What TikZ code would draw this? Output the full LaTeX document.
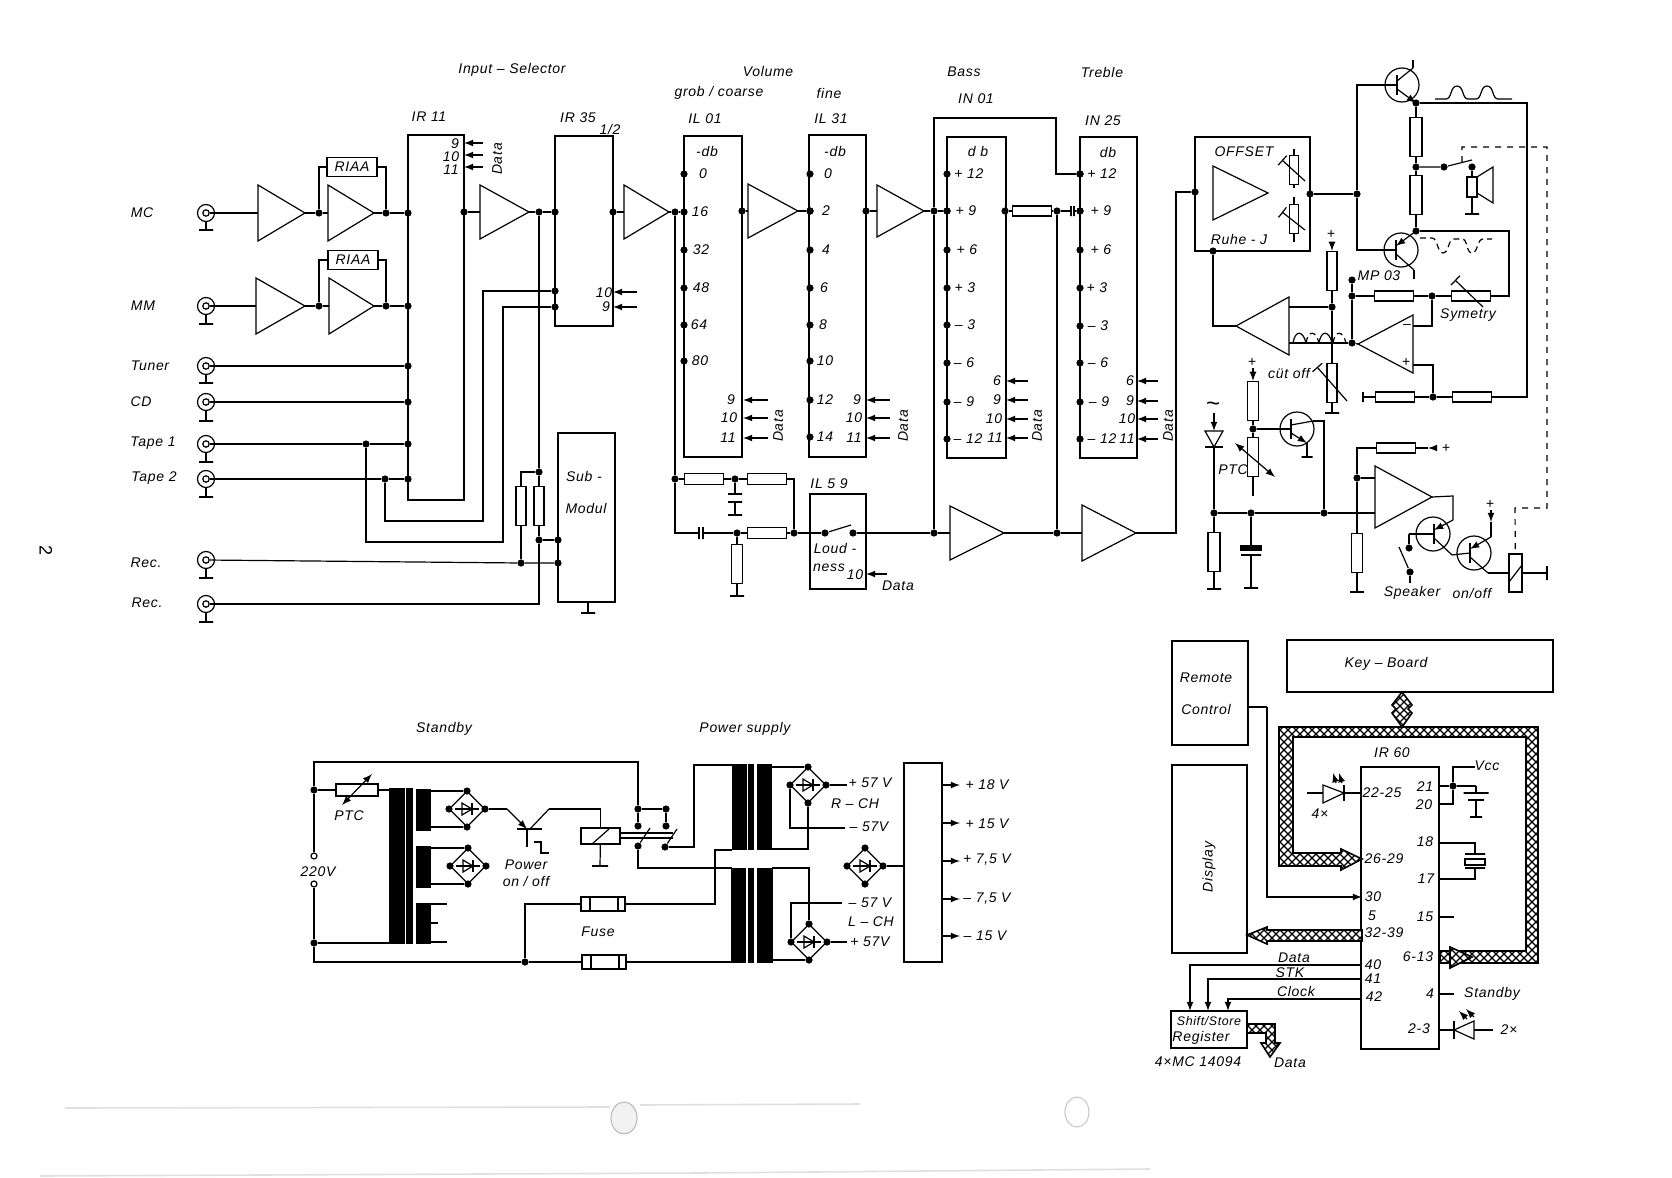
\documentclass[tikz,border=0pt]{standalone}
\usepackage{fontspec}
\setmainfont{Liberation Sans}[LetterSpace=5]
\usetikzlibrary{shapes.geometric,patterns}

\pgfdeclarepatternformonly{buscross}{\pgfqpoint{-1pt}{-1pt}}{\pgfqpoint{5pt}{5pt}}{\pgfqpoint{4pt}{4pt}}{
  \pgfsetlinewidth{.6pt}
  \pgfpathmoveto{\pgfqpoint{0pt}{0pt}}\pgfpathlineto{\pgfqpoint{4pt}{4pt}}
  \pgfpathmoveto{\pgfqpoint{0pt}{4pt}}\pgfpathlineto{\pgfqpoint{4pt}{0pt}}
  \pgfusepath{stroke}}

\tikzset{
  lbl/.style={inner sep=0pt,font=\fontsize{7}{8.4}\selectfont\itshape},
  lblr/.style={lbl,rotate=90},
  dot/.style={circle,fill=black,inner sep=0pt,minimum size=3.6pt},
  block/.style={draw,inner sep=0pt,outer sep=0pt},
  core/.style={block,fill=black},
  resh/.style={draw,fill=white,inner sep=0pt,minimum width=19.5pt,minimum height=5.5pt},
  resv/.style={draw,fill=white,inner sep=0pt,minimum width=5.5pt,minimum height=19.5pt},
  gndbar/.style={draw,fill=black,inner sep=0pt,minimum width=7pt,minimum height=0pt},
  vbar/.style={draw,fill=black,inner sep=0pt,minimum width=0pt,minimum height=6pt},
  jackring/.style={draw,circle,inner sep=0pt,minimum size=8.5pt},
  jackpin/.style={draw,circle,inner sep=0pt,minimum size=3.2pt},
  qring/.style={draw,circle,inner sep=0pt,minimum size=17pt},
  term/.style={draw,circle,fill=white,inner sep=0pt,minimum size=3pt},
  brbody/.style={draw,diamond,aspect=1,inner sep=0pt,minimum width=18pt,minimum height=18pt},
  busband/.style={draw,line width=.8pt,preaction={fill=white},pattern=buscross},
  smear/.style={draw=black!12,line width=.8pt}
}

\newcommand{\blk}[6][]{\node[block,minimum width={(#5-#3)*.5pt},minimum height={(#6-#4)*.5pt},#1] (#2) at ({(#3+#5)/2},{(#4+#6)/2}) {};}
\newcommand{\amp}[5]{\draw (#2,{#4-#5}) -- (#2,{#4+#5}) -- (#3,#4) -- cycle;
  \coordinate (#1-in) at (#2,#4); \coordinate (#1-out) at (#3,#4);}
\newcommand{\datain}[4]{\coordinate (#1-a) at (#2,#4); \coordinate (#1-b) at (#3,#4); \draw[-latex] (#1-a) -- (#1-b);}
\newcommand{\trim}[5]{\coordinate (#1-s) at (#2,#3); \coordinate (#1-e) at (#4,#5); \draw[-|] (#1-s) -- (#1-e);}
\newcommand{\twotip}[5]{\coordinate (#1-s) at (#2,#3); \coordinate (#1-e) at (#4,#5); \draw[latex-latex] (#1-s) -- (#1-e);}
\newcommand{\trans}[8]{\node[qring] (#1) at (#2,#3) {};
  \coordinate (#1-b) at (#4,#3); \coordinate (#1-bt) at (#4,{#3-10}); \coordinate (#1-bb) at (#4,{#3+10});
  \draw[line width=1pt] (#1-bt) -- (#1-bb);
  \coordinate (#1-u) at #5; \coordinate (#1-l) at #6;
  \coordinate (#1-us) at (#4,{#3-4}); \coordinate (#1-ls) at (#4,{#3+4});
  \draw[#7] (#1-us) -- (#1-u); \draw[#8] (#1-ls) -- (#1-l);}
\newcommand{\bridge}[3]{\node[brbody] (#1) at (#2,#3) {};
  \node[dot] (#1-t) at (#2,{#3-18}) {}; \node[dot] (#1-b) at (#2,{#3+18}) {};
  \node[dot] (#1-l) at ({#2-18},#3) {}; \node[dot] (#1-r) at ({#2+18},#3) {};
  \draw ({#2-12},#3) -- ({#2+12},#3);
  \draw ({#2-5},{#3-6}) -- ({#2-5},{#3+6}) -- ({#2+5},#3) -- cycle;
  \draw ({#2+5},{#3-6}) -- ({#2+5},{#3+6});}

\begin{document}
\begin{tikzpicture}[x=.5pt,y=-.5pt,line width=.6pt]
  \useasboundingbox (0,0) rectangle (1672,1178);

  \draw[smear] (65,1108) -- (610,1107);
  \draw[smear] (640,1105) -- (860,1104);
  \draw[smear] (40,1176) -- (700,1173) -- (1150,1169);
  \node[draw=black!25,fill=black!5,ellipse,inner sep=0pt,minimum width=13pt,minimum height=16pt] (holeA) at (624,1118) {};
  \node[draw=black!20,ellipse,inner sep=0pt,minimum width=12pt,minimum height=15pt] (holeB) at (1077,1112) {};

  \foreach \n/\x/\y/\g/\t/\lx/\ly in {mc/206/213/230/MC/142/213,mm/206/306/324/MM/143/306,tuner/206/366/383/Tuner/150/366,cd/206/402/421/CD/141/402,tapeA/206/444/462/Tape 1/153/443,tapeB/206/479/497/Tape 2/154/478,recA/206/560/578/Rec./146/563,recB/206/604/622/Rec./147/603}{
    \node[jackring] (\n) at (\x,\y) {};
    \node[jackpin] (\n-pin) at (\x,\y) {};
    \node[gndbar] (\n-g) at (\x,\g) {};
    \draw (\n) -- (\n-g);
    \node[lbl] (\n-t) at (\lx,\ly) {\t};
  }

  \amp{ampA}{258}{305}{213}{28}
  \amp{ampB}{328}{374}{213}{28}
  \amp{ampC}{256}{305}{306}{28}
  \amp{ampD}{329}{374}{306}{28}
  \amp{ampE}{480}{529}{212}{27}
  \amp{ampF}{624}{669}{212}{27}
  \amp{ampG}{748}{798}{211}{27}
  \amp{ampH}{877}{924}{211}{26}
  \amp{ampI}{950}{1004}{533}{27}
  \amp{ampJ}{1082}{1136}{533}{28}

  \blk{ir11}{408}{135}{464}{500}
  \blk{ir35}{555}{136}{613}{326}
  \blk{submod}{558}{433}{615}{602}
  \blk{il01}{684}{136}{742}{457}
  \blk{il31}{809}{135}{866}{457}
  \blk{il59}{810}{494}{866}{589}
  \blk{in01}{947}{137}{1006}{458}
  \blk{in25}{1080}{137}{1137}{458}
  \node[resh,minimum width=25pt,minimum height=9.5pt] (riaaA) at (352,167) {\fontsize{7}{8.4}\selectfont\itshape RIAA};
  \node[resh,minimum width=25pt,minimum height=9.5pt] (riaaB) at (353,260) {\fontsize{7}{8.4}\selectfont\itshape RIAA};

  \foreach \n/\x/\y in {fbA/319/213,fbB/386/213,fbC/319/306,fbD/386/306,irA/408/213,irB/408/306,irC/408/366,irD/408/402,irE/408/444,irF/408/479,irO/464/212,dSpl/539/212,ir35A/555/212,ir35B/555/291,ir35C/555/307,ir35O/613/212,dTA/366/444,dTB/385/479,dSplB/539/472,dRec/521/563,dSub/539/540,subA/558/540,subB/558/563,dLa/675/212,dLb/675/479,dLc/735/479,dLd/737/533,dLe/794/533,il01O/742/211,il31I/810/211,il31O/866/211,dBa/934/211,in01I/947/211,in01O/1005/211,dCp/1057/211,trI/1080/211,dBb/934/533,dTr/1057/533,swA/825/533,swB/853/533,trTop/1080/174,dOff/1195/192}{
    \node[dot] (\n) at (\x,\y) {};
  }

  \draw (mc-pin) -- (ampA-in);
  \draw (ampA-out) -- (fbA) -- (ampB-in);
  \draw (ampB-out) -- (fbB) -- (irA);
  \draw (fbA) |- (riaaA);
  \draw (riaaA) -| (fbB);
  \draw (mm-pin) -- (ampC-in);
  \draw (ampC-out) -- (fbC) -- (ampD-in);
  \draw (ampD-out) -- (fbD) -- (irB);
  \draw (fbC) |- (riaaB);
  \draw (riaaB) -| (fbD);
  \draw (tuner-pin) -- (irC);
  \draw (cd-pin) -- (irD);
  \draw (tapeA-pin) -- (dTA) -- (irE);
  \draw (tapeB-pin) -- (dTB) -- (irF);
  \draw (irO) -- (ampE-in);
  \draw (ampE-out) -- (dSpl) -- (ir35A);
  \draw (ir35O) -- (ampF-in);

  \coordinate (cSelB) at (483,521);
  \coordinate (cSelA) at (503,542);
  \draw (dTA) |- (cSelA) |- (ir35C);
  \draw (dTB) |- (cSelB) |- (ir35B);

  \node[resv,minimum width=5pt] (rSubA) at (521,506) {};
  \node[resv,minimum width=5pt] (rSubB) at (539,506) {};
  \draw (dSpl) -- (dSplB);
  \draw (dSplB) -| (rSubA);
  \draw (rSubA) -- (dRec);
  \draw (dSplB) -- (rSubB) -- (dSub) -- (subA);
  \draw (recA-pin) -- (dRec) -- (subB);
  \draw (recB-pin) -| (dSub);
  \node[gndbar] (subG) at (588,613) {};
  \coordinate (subF) at (588,602);
  \draw (subF) -- (subG);

  \foreach \n/\x/\y/\t in {hA/512/70/Input -- Selector,hB/429/117/IR 11,hC/578/118/IR 35,hE/584/476/Sub -,hF/586/508/Modul,hG/768/71/Volume,hI/829/93/fine,hJ/964/72/Bass,hK/1102/72/Treble,hL/976/99/IN 01,hM/705/119/IL 01,hN/831/119/IL 31,hO/1103/121/IN 25,hP/707/151/-db,hQ/835/151/-db,hR/978/151/d b,hS/1108/152/db,hT/829/484/IL 5 9,hU/835/548/Loud -,hV/829/568/ness,hW/855/575/10,hX/898/586/Data}{
    \node[lbl] (\n) at (\x,\y) {\t};
  }
  \node[lbl] (hD) at (610,129) {1/2};
  \node[lbl] (hH) at (719,93) {grob / coarse};

  \foreach \t/\lx/\ly/\ay in {9/455/144/143,10/451/157/155,11/451/170/167}{
    \node[lbl] (irP\t) at (\lx,\ly) {\t};
    \datain{irPa\t}{483}{464}{\ay}
  }
  \node[lblr] (irData) at (497,159) {Data};
  \foreach \t/\lx/\ly/\ay in {10/604/293/292,9/606/307/307}{
    \node[lbl] (isP\t) at (\lx,\ly) {\t};
    \datain{isPa\t}{637}{613}{\ay}
  }

  \foreach \t/\lx/\y in {0/703/174,16/700/212,32/701/250,48/701/288,64/699/325,80/700/361}{
    \node[dot] (ilA\y) at (684,\y) {};
    \node[lbl] (ilAt\y) at (\lx,\y) {\t};
  }
  \draw (ampF-out) -- (dLa) -- (ilA212);
  \foreach \t/\lx/\y in {0/828/174,2/826/211,4/826/250,6/824/288,8/823/325,10/825/361,12/825/400,14/825/437}{
    \node[dot] (ilB\y) at (810,\y) {};
    \node[lbl] (ilBt\y) at (\lx,\y) {\t};
  }
  \foreach \t/\lx/\y in {+ 12/969/174,+ 9/966/211,+ 6/967/250,+ 3/965/288,-- 3/965/325,-- 6/964/363,-- 9/964/402,-- 12/968/439}{
    \node[dot] (inA\y) at (947,\y) {};
    \node[lbl] (inAt\y) at (\lx,\y) {\t};
  }
  \foreach \t/\lx/\y in {+ 12/1102/174,+ 9/1101/211,+ 6/1101/250,+ 3/1097/288,-- 3/1098/326,-- 6/1098/363,-- 9/1099/402,-- 12/1102/439}{
    \node[dot] (inB\y) at (1080,\y) {};
    \node[lbl] (inBt\y) at (\lx,\y) {\t};
  }

  \foreach \t/\lx/\y in {9/731/400,10/729/418,11/728/438}{
    \node[lbl] (pA\t) at (\lx,\y) {\t};
    \datain{pAa\t}{768}{743}{\y}
  }
  \foreach \t/\lx/\y in {9/857/400,10/854/418,11/854/438}{
    \node[lbl] (pB\t) at (\lx,\y) {\t};
    \datain{pBa\t}{890}{866}{\y}
  }
  \foreach \t/\lx/\y in {6/997/381,9/997/400,10/994/419,11/995/438}{
    \node[lbl] (pC\t) at (\lx,\y) {\t};
    \datain{pCa\t}{1028}{1006}{\y}
  }
  \foreach \t/\lx/\y in {6/1130/381,9/1130/401,10/1127/419,11/1127/439}{
    \node[lbl] (pD\t) at (\lx,\y) {\t};
    \datain{pDa\t}{1158}{1137}{\y}
  }
  \foreach \n/\x in {dataA/778,dataB/903,dataC/1037,dataD/1168}{
    \node[lblr] (\n) at (\x,426) {Data};
  }

  \draw (il01O) -- (ampG-in);
  \draw (ampG-out) -- (il31I);
  \draw (il31O) -- (ampH-in);
  \draw (ampH-out) -- (dBa) -- (in01I);
  \coordinate (cTrA) at (1056,118);
  \coordinate (cTrB) at (1056,174);
  \draw (dBa) |- (cTrA) -- (cTrB) -- (trTop);
  \draw (dBa) -- (dBb);
  \node[resh,minimum height=5pt] (rTone) at (1032,211) {};
  \node[vbar,minimum height=5pt] (cpA) at (1071,211) {};
  \node[vbar,minimum height=5pt] (cpB) at (1074,211) {};
  \draw (in01O) -- (rTone) -- (dCp) -- (cpA);
  \draw (cpB) -- (trI);
  \draw (dCp) -- (dTr);

  \draw (dLa) -- (dLb);
  \node[resh,minimum height=5.5pt] (rLa) at (704,479) {};
  \node[resh,minimum height=5.5pt] (rLb) at (767,479) {};
  \node[resh,minimum height=5.5pt] (rLc) at (767,533) {};
  \node[resv] (rLd) at (737,564) {};
  \node[gndbar] (rLdG) at (737,596) {};
  \node[vbar] (lcA) at (699,533) {};
  \node[vbar] (lcB) at (703,533) {};
  \node[gndbar] (lpA) at (735,494) {};
  \node[gndbar] (lpB) at (735,502) {};
  \node[gndbar] (lpC) at (735,515) {};
  \draw (dLb) -- (rLa) -- (dLc) -- (rLb);
  \draw (rLb) -| (dLe);
  \draw (dLb) |- (lcA);
  \draw (lcB) -- (dLd) -- (rLc) -- (dLe) -- (swA);
  \draw (dLd) -- (rLd) -- (rLdG);
  \draw (dLc) -- (lpA);
  \draw (lpB) -- (lpC);
  \coordinate (swT) at (851,525);
  \draw (swA) -- (swT);
  \draw (swB) -- (dBb) -- (ampI-in);
  \draw (ampI-out) -- (dTr) -- (ampJ-in);
  \datain{pL}{887}{866}{574}
  \coordinate (cOff) at (1176,192);
  \draw (ampJ-out) -| (cOff) -- (dOff);

  \blk{offset}{1195}{137}{1310}{251}
  \amp{ampO}{1213}{1268}{193}{27}
  \foreach \n/\x/\y/\t in {oA/1244/152/OFFSET,oB/1239/239/Ruhe - J,oC/1379/276/MP 03,oD/1468/315/Symetry,oE/1289/373/cüt  off,oF/1233/470/PTC,oG/1412/593/Speaker,oI/1331/234/+,oJ/1252/362/+,oK/1490/504/+,oL/1446/448/+,oM/1407/326/--,oN/1406/362/+}{
    \node[lbl] (\n) at (\x,\y) {\t};
  }
  \node[lbl] (oH) at (1472,593) {on/off};
  \node[lbl,font=\large] (oO) at (1213,407) {\textasciitilde};

  \foreach \n/\x/\y in {dOutO/1310/194,dBase/1357/194,dRuhe/1213/251,dE1/1416/103,dSp/1416/167,dE2/1416/231,dSw/1444/167,dSpk/1472/167,dFa/1432/296,dFb/1433/397,dMP/1352/296,dMPt/1352/280,dSum/1352/343,dV/1332/307,dJa/1214/513,dJb/1251/513,dJc/1324/513,dB/1253/429,dIn/1357/478,dSwA/1409/548,dSwB/1410/572}{
    \node[dot] (\n) at (\x,\y) {};
  }
  \node[resv,minimum width=4.5pt,minimum height=14.5pt] (prA) at (1294,170) {};
  \node[resv,minimum width=4.5pt,minimum height=14.5pt] (prB) at (1294,219) {};
  \foreach \n/\x/\y in {prAt/1294/149,prAb/1294/188,prBt/1294/197,prBb/1294/242,tAc/1413/60,tBc/1414/279}{
    \coordinate (\n) at (\x,\y);
  }
  \draw (prAt) -- (prA) -- (prAb);
  \draw (prBt) -- (prB) -- (prBb);
  \trim{prAs}{1305}{181}{1282}{160}
  \trim{prBs}{1305}{230}{1282}{212}

  \trans{tA}{1402}{85}{1397}{(1413,68)}{(1416,103)}{-}{-latex}
  \trans{tB}{1401}{250}{1396}{(1416,231)}{(1414,270)}{latex-}{-}
  \draw (tA-u) -- (tAc);
  \draw (tB-l) -- (tBc);
  \draw (dOutO) -- (dBase);
  \draw (dBase) |- (tA-b);
  \draw (dBase) |- (tB-b);
  \node[resv,minimum width=6pt] (rEa) at (1416,137) {};
  \node[resv,minimum width=6pt] (rEb) at (1416,195) {};
  \draw (dE1) -- (rEa) -- (dSp) -- (rEb) -- (dE2);

  \draw (1435,99) -- (1446,99) .. controls (1452,99) and (1450,86) .. (1457,86) .. controls (1464,86) and (1462,99) .. (1468,99) -- (1476,99) .. controls (1482,99) and (1480,86) .. (1487,86) .. controls (1494,86) and (1492,99) .. (1498,99) -- (1512,99);
  \draw[densely dashed] (1420,238) -- (1432,238) .. controls (1438,238) and (1437,253) .. (1443,253) .. controls (1449,253) and (1448,239) .. (1454,239) -- (1462,239) .. controls (1468,239) and (1466,253) .. (1472,253) .. controls (1478,253) and (1477,239) .. (1483,239) -- (1492,239);
  \foreach \x/\s in {1293/solid,1306/densely dashed,1319/solid,1333/densely dashed}{
    \draw[\s] (\x,343) .. controls ({\x+2},330) and ({\x+10},330) .. ({\x+13},343);
  }

  \coordinate (cRa) at (1527,397);
  \coordinate (cSy) at (1509,296);
  \node[resh,minimum height=5pt] (rRt) at (1472,397) {};
  \node[resh,minimum height=5pt] (rRl) at (1395,397) {};
  \node[vbar,minimum height=5pt] (rRe) at (1363,397) {};
  \node[resh,minimum height=5pt] (rSy) at (1471,296) {};
  \node[resh,minimum height=5pt] (rFb) at (1394,296) {};
  \trim{rSys}{1483}{307}{1455}{280}
  \draw (dE1) -| (cRa) -- (rRt) -- (dFb) -- (rRl) -- (rRe);
  \draw (dE2) -| (cSy) -- (rSy) -- (dFa) -- (rFb) -- (dMP);
  \draw (dMPt) -- (dMP) -- (dSum);
  \amp{opR}{1413}{1358}{344}{29}
  \amp{opL}{1289}{1236}{326}{29}
  \coordinate (opRm) at (1413,326);
  \coordinate (opRp) at (1413,365);
  \coordinate (opLa) at (1289,307);
  \coordinate (opLb) at (1289,343);
  \draw (opRm) -| (dFa);
  \draw (opRp) -| (dFb);
  \draw (dSum) -- (opR-out);
  \draw (opLb) -- (dSum);
  \draw (opL-out) -| (dRuhe);
  \draw (opLa) -- (dV);
  \coordinate (plusA) at (1332,243);
  \node[resv,minimum width=5pt] (rPa) at (1332,271) {};
  \node[resv,minimum width=5pt] (rCut) at (1332,383) {};
  \node[gndbar] (rCutG) at (1332,413) {};
  \draw[-latex] (plusA) -- (rPa);
  \draw (rPa) -- (dV) -- (rCut) -- (rCutG);
  \trim{rCuts}{1347}{401}{1317}{367}

  \node[resv,minimum width=5pt,minimum height=10pt] (spk) at (1472,187) {};
  \node[gndbar] (spkG) at (1472,214) {};
  \draw (1477,177) -- (1493,167) -- (1493,203) -- (1477,193);
  \coordinate (swS) at (1472,160);
  \coordinate (swL) at (1462,162);
  \draw (dSp) -- (dSw) -- (swS);
  \draw (dSpk) -- (spk) -- (spkG);
  \coordinate (cDa) at (1547,147);
  \coordinate (cDb) at (1515,508);
  \blk{relay}{1509}{554}{1522}{592}
  \draw[dashed] (swL) |- (cDa) |- (cDb) -- (relay);
  \coordinate (rlA) at (1509,582);
  \coordinate (rlB) at (1522,565);
  \draw (rlA) -- (rlB);
  \node[vbar,minimum height=7pt] (rlE) at (1547,573) {};
  \draw (relay) -- (rlE);

  \foreach \n/\x/\y in {cTil/1214/413,dioT/1214/431,dioB/1214/447,dioL/1205/431,dioR/1223/431,dioE/1205/447,dioF/1223/447}{
    \coordinate (\n) at (\x,\y);
  }
  \draw[-latex] (cTil) -- (dioT);
  \draw (dioL) -- (dioR) -- (dioB) -- cycle;
  \draw (dioE) -- (dioF);
  \coordinate (ampSi) at (1375,513);
  \coordinate (ampSt) at (1375,478);
  \draw (dioB) -- (dJa) -- (dJb) -- (dJc) -- (ampSi);
  \node[resv,minimum width=6pt] (rXa) at (1214,552) {};
  \node[gndbar] (rXg) at (1214,589) {};
  \draw (dJa) -- (rXa) -- (rXg);
  \node[gndbar,minimum width=10pt,minimum height=2pt] (cEa) at (1251,548) {};
  \node[gndbar,minimum width=10pt] (cEb) at (1251,555) {};
  \node[gndbar] (cEg) at (1251,588) {};
  \draw (dJb) -- (cEa);
  \draw (cEb) -- (cEg);
  \trans{tC}{1297}{429}{1291}{(1313,421)}{(1307,443)}{-}{-latex}
  \node[gndbar,minimum width=5.5pt] (tCg) at (1307,457) {};
  \draw (tC-l) -- (tCg);
  \draw (dJc) |- (tC-u);
  \coordinate (plusB) at (1253,368);
  \coordinate (ptcE) at (1253,496);
  \node[resv] (rUa) at (1253,401) {};
  \node[resv] (rPtc) at (1253,457) {};
  \draw[-latex] (plusB) -- (rUa);
  \draw (rUa) -- (dB) -- (rPtc) -- (ptcE);
  \draw (dB) -- (tC-b);
  \twotip{ptcA}{1235}{443}{1275}{477}

  \amp{ampS}{1375}{1432}{497}{31}
  \coordinate (tipC) at (1428,448);
  \coordinate (tailC) at (1437,448);
  \node[resh,minimum height=5pt] (rR) at (1396,448) {};
  \draw[-latex] (tailC) -- (tipC);
  \draw (tipC) -- (rR);
  \draw (rR) -| (dIn);
  \draw (dIn) -- (ampSt);
  \node[resv,minimum width=5.5pt] (rYa) at (1357,553) {};
  \node[gndbar] (rYg) at (1357,592) {};
  \draw (dIn) -- (rYa) -- (rYg);
  \trans{tE}{1433}{534}{1434}{(1453,520)}{(1452,555)}{latex-}{-}
  \trans{tF}{1474}{553}{1470}{(1491,537)}{(1488,573)}{latex-}{-}
  \coordinate (cAs) at (1453,496);
  \coordinate (cSw) at (1409,534);
  \coordinate (cBl) at (1399,547);
  \coordinate (cSe) at (1410,583);
  \coordinate (plusD) at (1491,510);
  \coordinate (cD) at (1491,522);
  \draw (ampS-out) -- (cAs) -- (tE-u);
  \draw (cSw) -- (tE-b);
  \draw (cSw) -- (dSwA);
  \draw (dSwB) -- (cBl);
  \draw (dSwB) -- (cSe);
  \draw (tE-l) -- (tF-b);
  \draw[-latex] (plusD) -- (cD);
  \draw (cD) -- (tF-u);
  \draw (tF-l) -- (relay);

  \foreach \n/\x/\y/\t in {sA/444/729/Standby,sB/745/729/Power  supply,sC/318/872/220V,sD/349/816/PTC,sE/526/865/Power,sG/598/932/Fuse,sH/870/783/+ 57 V,sI/855/804/R -- CH,sJ/869/827/-- 57V,sK/870/903/-- 57 V,sL/871/922/L -- CH,sM/870/942/+ 57V,sN/987/785/+ 18 V,sO/987/824/+ 15 V,sP/987/860/{+ 7,5 V},sQ/987/899/{-- 7,5 V},sR/985/936/-- 15 V}{
    \node[lbl] (\n) at (\x,\y) {\t};
  }
  \node[lbl] (sF) at (526,881) {on / off};
  \node[lbl,font=\fontsize{9}{10}\selectfont,rotate=-90] (sT) at (46,551) {2};

  \blk[core]{coreA}{390}{789}{404}{943}
  \blk[core]{coreB}{407}{789}{412}{943}
  \blk[core]{coreC}{417}{790}{430}{830}
  \blk[core]{coreD}{417}{847}{430}{887}
  \blk[core]{coreE}{417}{904}{430}{943}
  \blk[core]{coreF}{733}{765}{746}{849}
  \blk[core]{coreG}{749}{765}{753}{849}
  \blk[core]{coreH}{758}{765}{771}{849}
  \blk[core]{coreI}{732}{869}{745}{962}
  \blk[core]{coreJ}{749}{869}{753}{962}
  \blk[core]{coreK}{758}{869}{772}{962}
  \blk{rail}{904}{763}{942}{962}

  \bridge{brA}{467}{809}
  \bridge{brB}{468}{866}
  \bridge{brC}{808}{785}
  \bridge{brD}{809}{942}
  \bridge{brE}{865}{866}

  \foreach \n/\x/\y in {dTop/314/790,dBot/314/943,dF/525/962,dC/638/809,dKa/666/809,dKb/666/826,dKc/638/826,dKd/638/846,dKe/665/847}{
    \node[dot] (\n) at (\x,\y) {};
  }
  \node[term] (termA) at (314,856) {};
  \node[term] (termB) at (314,884) {};
  \foreach \n/\x/\y in {cTL/314/762,cBL/314/962,cPr/390/790,cPb/390/943,cAa/430/791,cAb/430/827,cBa/430/848,cBb/430/884,cCa/430/904,cCb/447/904,cCc/430/923,cCd/438/923,cCe/430/942,cCf/447/942,cQa/507/809,cQb/527/829,cQc/517/829,cQd/542/829,cQe/530/829,cQf/549/809,cQg/527/847,puA/534/842,puB/541/842,puC/541/853,puD/549/853,dlA/620/833,dlB/673/833,dlC/620/838,dlD/673/838,bkA/650/828,bkB/677/829,cN/732/868,cO/694/847,cP/733/765,cX/715/850,cXe/732/850,cYe/732/962,cN2/772/868,cQ/771/767,cR/771/849,cS/845/828,cT/847/785,cU/842/903,cV/847/942,cW/772/960,cZ/904/866}{
    \coordinate (\n) at (\x,\y);
  }
  \node[resh,minimum width=21pt,minimum height=6pt] (rPs) at (357,790) {};
  \twotip{rPsA}{342}{805}{372}{774}
  \node[resh,minimum width=22pt,minimum height=7pt] (fuseA) at (603,904) {};
  \node[resh,minimum width=22pt,minimum height=7pt] (fuseB) at (604,962) {};
  \foreach \n/\x/\y in {fa/590/904,fb/618/904,fc/591/962,fd/619/962}{
    \node[block,minimum width=0pt,minimum height=7pt] (\n) at (\x,\y) {};
  }

  \draw (termA) -- (dTop) -- (cTL) -| (dC);
  \draw (dTop) -- (rPs) -- (cPr);
  \draw (termB) -- (dBot) -- (cBL) -- (dF) -- (fuseB) -- (cYe);
  \draw (dBot) -- (cPb);
  \draw (dF) |- (fuseA);
  \draw (fuseA) -| (cX) -- (cXe);
  \draw (cAa) -- (brA-t);
  \draw (cAb) -- (brA-b);
  \draw (cBa) -- (brB-t);
  \draw (cBb) -- (brB-b);
  \draw (cCa) -- (cCb);
  \draw (cCc) -- (cCd);
  \draw (cCe) -- (cCf);
  \draw (brA-r) -- (cQa);
  \draw[-latex] (cQa) -- (cQb);
  \draw (cQc) -- (cQd);
  \draw (cQe) -- (cQf);
  \draw (cQb) -- (cQg);
  \draw (puA) -- (puB) -- (puC) -- (puD);

  \blk{relP}{581}{828}{620}{844}
  \coordinate (relA) at (592,844);
  \coordinate (relB) at (609,829);
  \draw (relA) -- (relB);
  \node[gndbar,minimum width=8pt] (relG) at (600,866) {};
  \draw (cQf) -| (relP);
  \draw (relP) -- (relG);
  \draw (dlA) -- (dlB);
  \draw (dlC) -- (dlD);
  \draw (dC) -- (dKc);
  \draw (dC) -- (dKa) -- (dKb);
  \draw (dKd) -- (bkA);
  \draw (dKe) -- (bkB);
  \draw (dKd) |- (cN);
  \draw (dKe) -- (cO) |- (cP);
  \draw (cN2) -| (brD-t);
  \draw (cQ) -- (brC-t);
  \draw (cR) -| (brC-b);
  \draw (brC-l) |- (cS);
  \draw (brC-r) -- (cT);
  \draw (brD-l) |- (cU);
  \draw (brD-r) -- (cV);
  \draw (cW) -- (brD-b);
  \draw (brE-r) -- (cZ);
  \foreach \y in {785,823,861,899,936}{
    \datain{out\y}{942}{960}{\y}
  }

  \blk{remote}{1172}{641}{1248}{745}
  \blk{keyb}{1287}{640}{1553}{692}
  \blk{disp}{1172}{765}{1247}{953}
  \blk{ir60}{1361}{767}{1439}{1049}
  \blk{shift}{1171}{1011}{1247}{1048}
  \foreach \n/\x/\y/\t in {kA/1206/678/Remote,kB/1206/709/Control,kC/1386/664/Key -- Board,kE/1392/753/IR 60,kF/1382/793/22-25,kG/1384/859/26-29,kH/1373/897/30,kI/1372/916/5,kJ/1384/933/32-39,kK/1373/965/40,kL/1373/979/41,kM/1374/997/42,kN/1425/787/21,kO/1424/805/20,kP/1425/842/18,kQ/1426/879/17,kR/1425/917/15,kS/1418/957/6-13,kT/1430/994/4,kU/1419/1029/2-3,kV/1487/766/Vcc,kW/1492/994/Standby,kX/1509/1030/2×,kY/1320/814/4×,kZ/1294/958/Data,lA/1290/973/STK,lB/1296/991/Clock,lD/1201/1038/Register,lE/1198/1062/4×MC 14094,lF/1290/1063/Data}{
    \node[lbl] (\n) at (\x,\y) {\t};
  }
  \node[lblr] (kD) at (1209,867) {Display};
  \node[lbl,font=\fontsize{6.2}{7.4}\selectfont\itshape] (lC) at (1209,1021) {Shift/Store};

  \draw[busband] (1279,866) -- (1279,727) -- (1538,727) -- (1538,963) -- (1440,963) -- (1440,951) -- (1526,951) -- (1526,737) -- (1293,737) -- (1293,853) -- (1341,853) -- (1341,849) -- (1362,859) -- (1341,870) -- (1341,866) -- cycle;
  \draw[busband] (1450,947) -- (1472,957) -- (1450,968) -- cycle;
  \draw[busband] (1402,692) -- (1412,705) -- (1408,709) -- (1412,713) -- (1402,727) -- (1392,713) -- (1396,709) -- (1392,705) -- cycle;
  \draw[busband] (1362,930) -- (1267,930) -- (1267,927) -- (1247,935) -- (1267,944) -- (1267,941) -- (1362,941) -- cycle;
  \draw[busband] (1247,1024) -- (1275,1024) -- (1275,1043) -- (1280,1043) -- (1270,1057) -- (1261,1043) -- (1266,1043) -- (1266,1033) -- (1247,1033) -- cycle;

  \foreach \n/\x/\y in {cRm/1267/707,cPi/1362/897,pL22/1362/793,lA1/1323/785,lA2/1323/803,lA3/1344/793,lA4/1344/785,lA5/1344/801,lA6/1307/793,lA7/1323/793,p21/1439/786,p20/1439/804,cV1/1453/804,cV2/1453/767,cV3/1475/767,cC1/1476/786,p18/1439/843,p17/1439/879,xA/1475/843,xB/1475/879,p15/1439/917,p15e/1454/917,p4/1439/994,p4e/1454/994,p2/1439/1030,p2a/1454/1030,p2b/1474/1030,p2c/1493/1030,p2d/1454/1021,p2e/1454/1039,p2f/1474/1021,p2g/1474/1039,p40/1362/965,p41/1362/979,p42/1362/999,s1/1190/1011,s2/1208/1011,s3/1228/1011}{
    \coordinate (\n) at (\x,\y);
  }
  \node[dot] (dVc) at (1453,786) {};
  \draw (remote.east |- cRm) -- (cRm);
  \draw[-latex] (cRm) |- (cPi);
  \draw (lA1) -- (lA2) -- (lA3) -- cycle;
  \draw (lA4) -- (lA5);
  \draw (lA6) -- (lA7);
  \draw (lA3) -- (pL22);
  \draw[-latex] (1336,783) -- (1333,773);
  \draw[-latex] (1342,783) -- (1339,773);
  \draw (p21) -- (dVc) -- (cC1);
  \draw (p20) -- (cV1) -- (dVc) -- (cV2) -- (cV3);
  \node[gndbar,minimum width=12.5pt] (cvA) at (1476,793) {};
  \node[gndbar,minimum width=8pt] (cvB) at (1476,800) {};
  \node[gndbar,minimum width=6pt] (cvG) at (1476,817) {};
  \draw (cC1) -- (cvA);
  \draw (cvB) -- (cvG);
  \node[gndbar,minimum width=10pt] (xtA) at (1475,854) {};
  \node[block,minimum width=10pt,minimum height=3pt] (xtB) at (1475,862) {};
  \node[gndbar,minimum width=10pt] (xtC) at (1475,868) {};
  \draw (p18) -- (xA) -- (xtA);
  \draw (xtC) -- (xB) -- (p17);
  \draw (p15) -- (p15e);
  \draw (p4) -- (p4e);
  \draw (p2) -- (p2a);
  \draw (p2d) -- (p2e);
  \draw (p2a) -- (p2f) -- (p2g) -- cycle;
  \draw (p2b) -- (p2c);
  \draw[-latex] (1467,1019) -- (1459,1011);
  \draw[-latex] (1474,1017) -- (1466,1009);
  \draw[-latex] (p40) -| (s1);
  \draw[-latex] (p41) -| (s2);
  \draw[-latex] (p42) -| (s3);
\end{tikzpicture}
\end{document}
